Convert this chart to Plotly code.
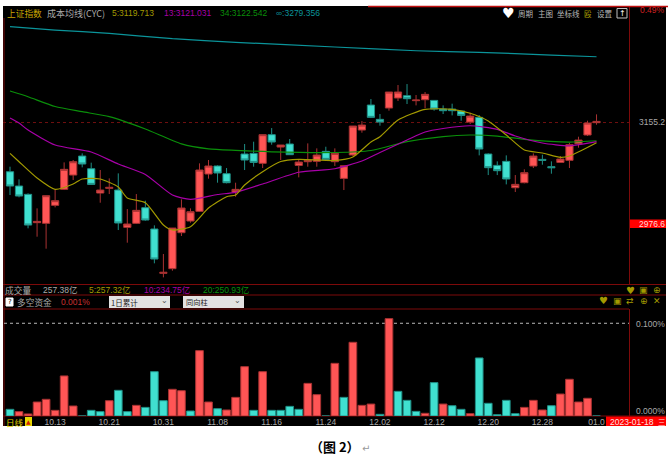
import plotly.graph_objects as go

# ---- data ----
idx = list(range(66))
opens = [3068.2,3042.9,3028.2,2978.1,2976.9,3008.7,3037.0,3062.3,3095.9,3073.5,3030.5,3038.8,3035.8,2969.8,2976.9,3004.6,2966.9,2888.5,2896.8,2960.4,2981.0,2998.1,3064.1,3078.3,3064.7,3032.3,3099.5,3100.6,3083.0,3133.7,3111.8,3117.2,3079.4,3085.9,3086.5,3104.2,3085.9,3056.4,3097.7,3141.9,3186.1,3160.8,3180.8,3198.5,3202.6,3193.8,3195.5,3194.3,3179.0,3179.0,3175.5,3156.0,3164.3,3099.5,3079.4,3086.5,3039.9,3048.8,3078.3,3090.0,3077.1,3084.7,3088.3,3117.7,3133.1,3154.9]
closes = [3042.9,3025.2,2973.9,2980.4,3025.8,3017.0,3072.4,3085.9,3081.8,3045.8,3035.8,3040.5,2977.5,2975.7,2999.9,2982.8,2913.8,2890.3,2968.6,3004.0,2997.5,3071.2,3078.3,3065.9,3048.8,3037.0,3088.9,3084.7,3133.7,3120.7,3115.4,3098.3,3085.3,3088.3,3097.7,3090.0,3100.6,3078.8,3149.0,3150.7,3164.3,3156.0,3209.1,3209.1,3197.3,3194.9,3205.0,3179.0,3176.1,3176.1,3167.8,3166.6,3108.3,3075.3,3070.0,3055.3,3045.8,3066.5,3095.9,3088.3,3075.3,3090.6,3116.0,3124.2,3154.3,3157.2]
highs = [3077.1,3054.7,3029.9,3003.4,3025.8,3037.0,3084.7,3088.9,3100.6,3084.2,3071.2,3056.4,3065.3,3002.2,3028.7,3017.0,2973.4,2922.7,2968.6,3019.3,3003.4,3083.0,3088.9,3079.4,3074.7,3048.8,3117.2,3121.3,3133.7,3145.4,3115.4,3126.0,3088.9,3118.3,3109.5,3112.4,3109.5,3078.8,3149.0,3157.8,3196.7,3170.2,3209.1,3221.5,3223.2,3203.8,3209.1,3194.3,3185.5,3188.5,3175.5,3172.5,3168.4,3100.6,3086.5,3097.1,3062.3,3072.4,3100.6,3098.3,3086.5,3095.9,3119.5,3130.1,3158.4,3169.6]
lows = [3027.0,3022.9,2968.1,2953.3,2932.1,3005.2,3035.8,3053.5,3075.9,3044.7,3013.4,3028.7,2965.1,2942.7,2975.7,2981.6,2906.2,2881.4,2893.2,2954.5,2978.1,2997.5,3055.9,3048.8,3047.6,3024.0,3071.2,3077.1,3074.7,3116.0,3088.9,3097.7,3058.2,3077.1,3077.1,3087.7,3078.3,3035.8,3095.9,3137.2,3163.1,3149.6,3176.1,3193.2,3187.9,3185.5,3180.8,3176.1,3170.2,3167.8,3158.4,3152.5,3097.1,3062.3,3062.3,3045.8,3032.3,3047.6,3074.7,3080.6,3064.7,3083.6,3074.7,3110.7,3131.3,3151.3]

ma5_x = [0,1,3,5,7,8,10,12,13,15,17,18,20,22,24,25,26,28,30,32,36,38,40,41,43,46,49,51,53,55,57,59,61,62,65]
ma5 = [3100.7,3085.9,3057.1,3037.1,3046.5,3055.3,3055.3,3041.2,3021.7,3013.4,2974.0,2965.1,2971.0,3004.0,3024.0,3027.0,3044.7,3068.2,3086.2,3090.1,3088.0,3094.2,3120.7,3130.1,3159.6,3178.5,3178.5,3171.5,3157.9,3133.1,3106.6,3101.3,3093.7,3096.0,3119.5]
ma13_x = [0,1,2,5,9,12,15,18,20,23,25,28,32,36,39,41,44,46,48,51,54,56,59,62,65]
ma13 = [3163.2,3154.3,3141.9,3115.4,3103.0,3081.8,3063.3,3027.0,3019.4,3027.9,3031.8,3046.5,3067.2,3073.5,3087.1,3102.2,3124.3,3138.4,3144.6,3149.5,3143.2,3131.3,3119.0,3114.0,3121.3]
ma34_x = [0,2,5,8,11,15,19,22,25,29,36,40,44,48,51,54,57,62,65]
ma34 = [3210.9,3200.8,3183.5,3174.3,3165.5,3143.7,3117.5,3108.7,3106.0,3103.4,3102.2,3105.7,3121.3,3130.4,3133.1,3131.3,3125.5,3120.7,3123.0]
mainf_x = [0,5,11,18,25,36,45,52,60,65]
mainf = [3324.6,3318.7,3312.9,3303.4,3297.0,3288.7,3282.1,3279.3,3274.5,3271.5]

fund_abs = [.0072,.0047,.0022,.0151,.018,.0061,.0432,.0108,0,.0061,.0047,.0165,.0277,.0047,.0115,.0093,.0478,.0165,.0288,.0273,.0054,.0705,.0151,.0079,.0065,.0201,.0532,.0061,.0478,.0061,.0061,.0104,.0072,.0352,.023,0,.0568,.0201,.0795,.0115,.0129,.0018,.105,.0266,.0169,.005,.0029,.036,.0129,.0111,.0072,.0025,.0626,.0137,.0014,.0169,.0025,.0093,.0169,.0065,.0111,.0237,.0396,.0151,.0191,0]
fund_up = [0,1,1,1,1,1,1,1,0,0,0,1,0,0,1,0,0,0,1,1,0,1,1,0,1,1,1,0,1,0,0,0,0,1,1,0,1,0,1,1,1,0,1,0,0,0,1,0,1,0,0,1,0,0,0,0,0,1,1,1,0,1,1,1,1,0]

tick_idx = [5,11,17,23,29,35,41,47,53,59,65]
tick_text = ["10.13","10.21","10.31","11.08","11.16","11.24","12.02","12.12","12.20","12.28","01.0"]

# ---- style ----
W, H = 668, 468
RED, CYAN = "#ff5555", "#40e0d0"
RED_L, CYAN_L = "#a83232", "#1f8f86"
FRAME = "#7d0a0a"
GREY = "#a8a8a8"
OLIVE, MAGENTA, GREEN, TEAL = "#a39a00", "#a800a8", "#0a8f0a", "#0b949a"
NUM = "Liberation Sans, Noto Sans CJK SC, sans-serif"
CJK = "Noto Sans CJK SC, sans-serif"

def px(x): return x / W
def py(y): return 1 - y / H

fig = go.Figure()
fig.add_trace(go.Candlestick(
    x=idx, open=opens, high=highs, low=lows, close=closes, xaxis="x", yaxis="y",
    whiskerwidth=0,
    increasing=dict(fillcolor=RED, line=dict(color=RED_L, width=1)),
    decreasing=dict(fillcolor=CYAN, line=dict(color=CYAN_L, width=1)),
    hoverinfo="skip"))
for xs, ys, c in [(mainf_x, mainf, TEAL), (ma34_x, ma34, GREEN), (ma13_x, ma13, MAGENTA), (ma5_x, ma5, OLIVE)]:
    fig.add_trace(go.Scatter(x=xs, y=ys, mode="lines", xaxis="x", yaxis="y",
                             line=dict(color=c, width=1.2, shape="spline", smoothing=0.6), hoverinfo="skip"))
fig.add_trace(go.Bar(
    x=idx, y=fund_abs, xaxis="x2", yaxis="y2",
    marker=dict(color=[RED if u else CYAN for u in fund_up],
                line=dict(color=[RED_L if u else CYAN_L for u in fund_up], width=1)),
    hoverinfo="skip"))

xr = [-0.776, 68.6]
fig.update_layout(
    width=W, height=H, margin=dict(l=0, r=0, t=0, b=0), showlegend=False,
    paper_bgcolor="white", plot_bgcolor="rgba(0,0,0,0)", bargap=0.15, boxgap=0.2, boxgroupgap=0,
    xaxis=dict(domain=[px(3), px(629)], range=xr, anchor="y", visible=False, rangeslider=dict(visible=False)),
    yaxis=dict(domain=[py(285), py(18)], range=[2867.9, 3340.0], anchor="x", visible=False),
    xaxis2=dict(domain=[px(3), px(629)], range=xr, anchor="y2", showgrid=False, zeroline=False, showline=False,
                tickmode="array", tickvals=tick_idx, ticktext=tick_text, ticklen=0, ticklabelstandoff=-1,
                tickfont=dict(family=NUM, size=8.5, color=GREY)),
    yaxis2=dict(domain=[py(416), py(309)], range=[0, 0.1154], anchor="x2", visible=False),
)

def rect(x0, y0, x1, y1, fill, line=None, layer="below"):
    fig.add_shape(type="rect", xref="paper", yref="paper", x0=px(x0), x1=px(x1), y0=py(y0), y1=py(y1),
                  fillcolor=fill, line=dict(color=line or fill, width=1 if line else 0), layer=layer)

def hline(y, x0=3, x1=666, color=FRAME, width=1):
    fig.add_shape(type="line", xref="paper", yref="paper", x0=px(x0), x1=px(x1), y0=py(y), y1=py(y),
                  line=dict(color=color, width=width), layer="below")

def vline(x, y0, y1, color=FRAME, width=1):
    fig.add_shape(type="line", xref="paper", yref="paper", x0=px(x), x1=px(x), y0=py(y0), y1=py(y1),
                  line=dict(color=color, width=width), layer="below")

rect(3, 6, 666, 426, "black")
hline(6.5, 368, 668, "#c01010", 1.5)
hline(284.5); hline(295); hline(309, 3, 629); hline(416)
vline(4, 18, 426); vline(629.5, 7, 285); vline(629.5, 309, 416)

fig.add_shape(type="line", xref="paper", yref="y", x0=px(3), x1=px(629), y0=3155.2, y1=3155.2,
              line=dict(color="#701010", width=1, dash="dot"), layer="below")
fig.add_shape(type="line", xref="paper", yref="y2", x0=px(4), x1=px(629), y0=0.1, y1=0.1,
              line=dict(color="#b8b8b8", width=1, dash="dot"), layer="below")

def label(text, x, y, color=GREY, size=10, family=CJK, anchor="left", **kw):
    fig.add_annotation(text=text, xref="paper", yref="paper", x=px(x), y=py(y), xanchor=anchor, yanchor="middle",
                       showarrow=False, borderpad=0, borderwidth=0, font=dict(color=color, size=size, family=family), **kw)

# header row
label("上证指数", 6.5, 13, "#c9a400", 8.7)
label("成本均线(CYC)", 47, 13, GREY, 9)
label("5:3119.713", 112, 13, OLIVE, 8.5, NUM)
label("13:3121.031", 164, 13, MAGENTA, 8.5, NUM)
label("34:3122.542", 220, 13, GREEN, 8.5, NUM)
label("∞:3279.356", 276, 13, TEAL, 8.5, NUM)
label("♥", 508, 13, "white", 14, "DejaVu Sans", "center")
label("周期", 518, 13, "#b8b8b8", 7.5)
label("主图", 538, 13, "#b8b8b8", 7.5)
label("坐标线", 557, 13, "#b8b8b8", 7.5)
label("殴", 584, 13, OLIVE, 7.5)
label("设置", 597, 13, "#b8b8b8", 7.5)
rect(617, 8.5, 627, 18, "rgba(0,0,0,0)", "#c0c0c0", "above")
label("↑", 622, 13, "white", 8, "DejaVu Sans", "center")
label("0.49%", 665, 9.5, "#d02020", 8.5, NUM, "right")

# price labels
label("3155.2", 665, 122.5, GREY, 8.5, NUM, "right")
rect(630, 219.5, 666, 228, "#ff0000", None, "above")
label("2976.6", 665, 224, "#ffd8d8", 8.5, NUM, "right")

# volume row
label("成交量", 5, 290, GREY, 8.7)
label("257.38亿", 43, 290, GREY, 8.5, NUM)
label("5:257.32亿", 89, 290, OLIVE, 8.5, NUM)
label("10:234.75亿", 144, 290, MAGENTA, 8.5, NUM)
label("20:250.93亿", 203, 290, GREEN, 8.5, NUM)
label("♥", 630, 290, OLIVE, 10, "DejaVu Sans", "center")
label("▣", 643, 290, OLIVE, 9, "DejaVu Sans", "center")
label("⊕", 657, 290, OLIVE, 9, "DejaVu Sans", "center")

# indicator row
rect(6, 298, 13, 306, "white", "white", "above")
label("?", 9.5, 302, "black", 7, "DejaVu Sans", "center")
label("多空资金", 17, 302, GREY, 8.7)
label("0.001%", 61, 302, "#c83030", 8.5, NUM)
rect(109, 296, 170, 308, "#e2e2e2", None, "above")
rect(183, 296, 244, 308, "#e2e2e2", None, "above")
label("1日累计", 111, 302, "#222222", 7.5)
label("⌄", 164, 300, "#555555", 8, "DejaVu Sans", "center")
label("同向柱", 186, 302, "#222222", 7.2)
label("⌄", 238, 300, "#555555", 8, "DejaVu Sans", "center")
label("♥", 603, 300.5, OLIVE, 10, "DejaVu Sans", "center")
label("▣", 617, 300.5, OLIVE, 9, "DejaVu Sans", "center")
label("⇄", 630, 300.5, OLIVE, 9, "DejaVu Sans", "center")
label("⊕", 644, 300.5, OLIVE, 9, "DejaVu Sans", "center")
label("✕", 657, 300.5, OLIVE, 9, "DejaVu Sans", "center")

# indicator scale
label("0.100%", 665, 323.5, GREY, 8.5, NUM, "right")
label("0.000%", 665, 411, GREY, 8.5, NUM, "right")

# bottom row
label("日线", 6, 421.5, "#e0d000", 8.5)
rect(25, 417, 32, 426, "#e8d800", None, "above")
label("▲", 28.5, 421.5, "#d02000", 6, "DejaVu Sans", "center")
rect(606, 416.5, 666, 426, "#ff0000", None, "above")
label("2023-01-18", 610, 421.5, "#ffe0e0", 8.5, NUM)
label("三", 658, 421.5, "#ffe0e0", 7.5)

# caption
label("<b>（图 2）</b>", 310, 446, "black", 13, CJK)
label("↵", 366, 448, "#999999", 10, "DejaVu Sans", "center")

fig.write_html("out.html", config=dict(displayModeBar=False),
               post_script="document.body.style.margin='0';document.body.style.overflow='hidden';")
